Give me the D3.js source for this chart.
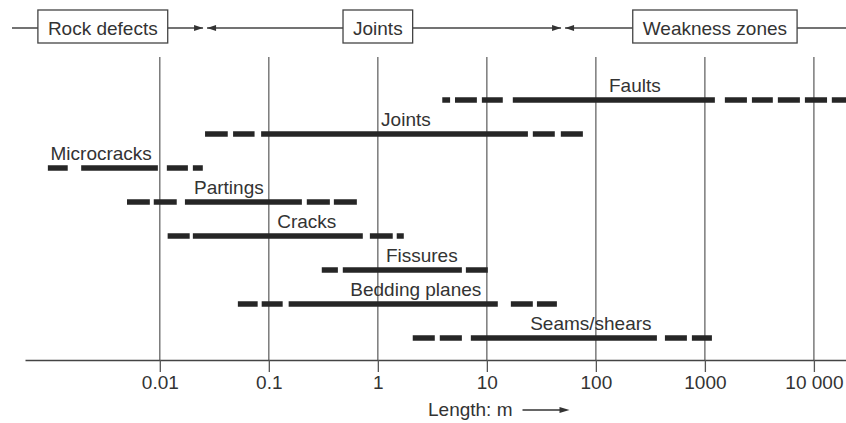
<!DOCTYPE html>
<html>
<head>
<meta charset="utf-8">
<script src="https://cdn.jsdelivr.net/npm/d3@7"></script>
<style>
  html, body { margin: 0; padding: 0; background: #fff; }
  svg { display: block; font-family: 'Liberation Sans', Arial, sans-serif; }
</style>
</head>
<body>
<main></main>
<script>
/************************************************************************
 Scale of rock discontinuities (length in metres, log axis)
************************************************************************/
const width = 846;
const height = 423;
const fontSize = 19;
const ink = '#262626';

// discontinuity types, top to bottom
const types = ['Faults', 'Joints', 'Microcracks', 'Partings', 'Cracks', 'Fissures', 'Bedding planes', 'Seams/shears'];

// drawn pieces of every bar [from, to] in metres (short ones are the dashes)
const faults = [[3.9, 4.6], [5.1, 8.1], [9.0, 14], [17.3, 1235], [1525, 2430], [2700, 4200], [4670, 7440], [8270, 13200], [14600, 19700]];
const joints = [[0.026, 0.042], [0.047, 0.074], [0.085, 23.8], [26.4, 42], [47.7, 76]];
const microcracks = [[0.00094, 0.00143], [0.0019, 0.0096], [0.0116, 0.0181], [0.0201, 0.0248]];
const partings = [[0.005, 0.0081], [0.0088, 0.0143], [0.017, 0.201], [0.223, 0.363], [0.395, 0.642]];
const cracks = [[0.0118, 0.0188], [0.0201, 0.728], [0.845, 1.37], [1.49, 1.73]];
const fissures = [[0.306, 0.43], [0.477, 5.9], [6.42, 10.2]];
const beddingPlanes = [[0.052, 0.079], [0.086, 0.134], [0.152, 12.6], [16.6, 26.4], [28.8, 43.9]];
const seamsShears = [[2.09, 3.33], [3.7, 5.9], [7.13, 363], [430, 684], [760, 1160]];
const segments = [faults, joints, microcracks, partings, cracks, fissures, beddingPlanes, seamsShears];

// where each label is centred, metres
const labelAt = [228, 1.81, 0.0029, 0.043, 0.223, 2.53, 2.23, 90];

// header groups and the lengths that separate them
const groups = ['Rock defects', 'Joints', 'Weakness zones'];
const groupCentres = [0.003, 1, 1236];
const groupBounds = [0.026, 50];

// axis ticks
const tickValues = [0.01, 0.1, 1, 10, 100, 1000, 10000];
const tickLabels = ['0.01', '0.1', '1', '10', '100', '1000', '10 000'];

const axisY = 360;
const gridTop = 57;
const headerY = 28;

const svg = d3.select('main')
  .append('svg')
  .attr('width', width)
  .attr('height', height);

/************************************************************************
 Scales
************************************************************************/
const xScale = d3.scaleLog()
  .domain([0.00058, 19700])
  .range([25, width]);

const yScale = d3.scalePoint()
  .domain(types)
  .range([100, 338]);

/************************************************************************
 Grid lines and axis
************************************************************************/
svg.append('g')
  .selectAll('line')
  .data(tickValues)
  .join('line')
  .attr('x1', d => xScale(d))
  .attr('x2', d => xScale(d))
  .attr('y1', gridTop)
  .attr('y2', axisY)
  .attr('stroke', '#666')
  .attr('stroke-width', 1.3);

const xAxis = d3.axisBottom(xScale)
  .tickValues(tickValues)
  .tickFormat((d, i) => tickLabels[i])
  .tickSize(12)
  .tickSizeOuter(0)
  .tickPadding(4);

const axisG = svg.append('g')
  .attr('transform', `translate(0, ${axisY})`)
  .call(xAxis);

axisG.select('.domain').attr('stroke', '#444').attr('stroke-width', 1.4);
axisG.selectAll('.tick line').attr('stroke', '#555').attr('stroke-width', 1.3);
axisG.selectAll('.tick text')
  .attr('font-size', fontSize)
  .attr('font-family', 'Liberation Sans, Arial, sans-serif')
  .attr('fill', '#333');

// axis title with its arrow
const lengthText = svg.append('text')
  .text('Length: m')
  .attr('x', 428)
  .attr('y', 416)
  .attr('font-size', fontSize)
  .attr('fill', '#333');

const lengthEnd = 428 + lengthText.node().getBBox().width;
svg.append('line')
  .attr('x1', lengthEnd + 10)
  .attr('x2', lengthEnd + 48)
  .attr('y1', 410)
  .attr('y2', 410)
  .attr('stroke', '#333')
  .attr('stroke-width', 1.3);
svg.append('path')
  .attr('d', `M${lengthEnd + 57},410 L${lengthEnd + 47},407 L${lengthEnd + 47},413 Z`)
  .attr('fill', '#333');

/************************************************************************
 Bars
************************************************************************/
types.forEach((type, i) => {
  const y = yScale(type);

  svg.append('g')
    .selectAll('line')
    .data(segments[i])
    .join('line')
    .attr('x1', d => xScale(d[0]))
    .attr('x2', d => Math.min(xScale(d[1]), width))
    .attr('y1', y)
    .attr('y2', y)
    .attr('stroke', ink)
    .attr('stroke-width', 5.5);

  svg.append('text')
    .text(type)
    .attr('x', xScale(labelAt[i]))
    .attr('y', y - 8)
    .attr('text-anchor', 'middle')
    .attr('font-size', fontSize)
    .attr('fill', '#333');
});

/************************************************************************
 Header: boxes joined by arrows
************************************************************************/
const gap = 2;
const headStops = [12, ...groupBounds.map(b => xScale(b)), width];

headStops.slice(0, -1).forEach((start, i) => {
  const from = i === 0 ? start : start + gap;
  const to = i === headStops.length - 2 ? headStops[i + 1] : headStops[i + 1] - gap;
  svg.append('line')
    .attr('x1', from)
    .attr('x2', to)
    .attr('y1', headerY)
    .attr('y2', headerY)
    .attr('stroke', '#444')
    .attr('stroke-width', 1.3);
});

groupBounds.forEach(b => {
  const bx = xScale(b);
  // arrow pointing right, ending just before the boundary
  svg.append('path')
    .attr('d', `M${bx - gap},${headerY} L${bx - gap - 9},${headerY - 3} L${bx - gap - 9},${headerY + 3} Z`)
    .attr('fill', '#333');
  // arrow pointing left, starting just after it
  svg.append('path')
    .attr('d', `M${bx + gap},${headerY} L${bx + gap + 9},${headerY - 3} L${bx + gap + 9},${headerY + 3} Z`)
    .attr('fill', '#333');
});

groups.forEach((group, i) => {
  const cx = xScale(groupCentres[i]);
  const box = svg.append('rect');
  const label = svg.append('text')
    .text(group)
    .attr('x', cx)
    .attr('y', headerY + 7)
    .attr('text-anchor', 'middle')
    .attr('font-size', fontSize)
    .attr('fill', '#333');

  const textWidth = label.node().getBBox().width;
  box.attr('x', cx - textWidth / 2 - 10)
    .attr('y', 10)
    .attr('width', textWidth + 20)
    .attr('height', 33)
    .attr('fill', '#fff')
    .attr('stroke', '#444')
    .attr('stroke-width', 1.3);
});
</script>
</body>
</html>
